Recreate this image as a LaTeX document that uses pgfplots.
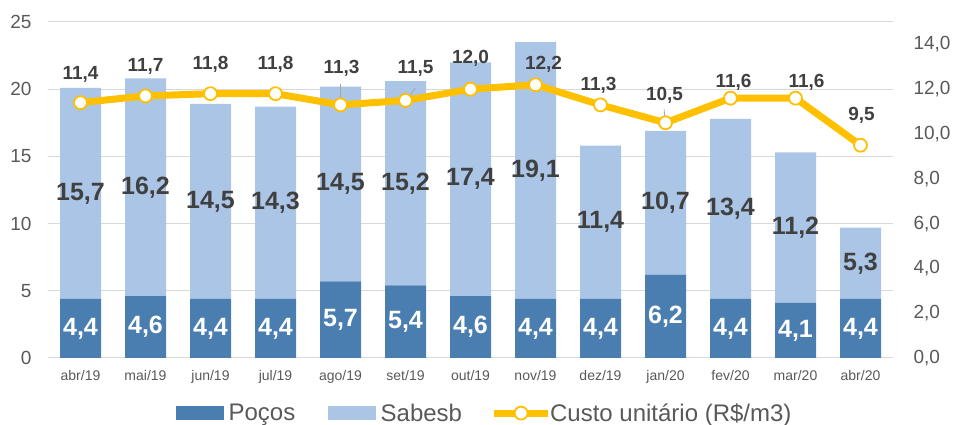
\documentclass[border=0pt]{standalone}
\usepackage{fontspec}
\setmainfont{Liberation Sans}
\usepackage{pgfplots}
\usepackage{pgfplotstable}
\pgfplotsset{compat=1.18}
\definecolor{pocos}{HTML}{4A7EB0}
\definecolor{sabesb}{HTML}{ABC5E6}
\definecolor{custo}{HTML}{FFC000}
\definecolor{gridc}{HTML}{D9D9D9}
\definecolor{tickc}{HTML}{595959}
\definecolor{lblc}{HTML}{404040}
\pgfplotsset{linelegend/.style={legend image code/.code={\path[draw=none, fill=none] (0pt,-6.5pt) rectangle (50pt,6.5pt); \draw[overlay, ##1, mark repeat=2, mark phase=2] plot coordinates {(-1pt,0pt) (26pt,0pt) (53pt,0pt)};}}}

\pgfplotstableread{
x pocos sabesb custo dx dy
0 4.4 15.7 11.4 0 28
1 4.6 16.2 11.7 0 29.5
2 4.4 14.5 11.8 0 29
3 4.4 14.3 11.8 0 29
4 5.7 14.5 11.3 1 36.5
5 5.4 15.2 11.5 10 32
6 4.6 17.4 12.0 0 30.5
7 4.4 19.1 12.2 8 20.5
8 4.4 11.4 11.3 -2 20
9 6.2 10.7 10.5 -1 27
10 4.4 13.4 11.6 3 15.5
11 4.1 11.2 11.6 11 15.5
12 4.4 5.3 9.5 1 30
}\data

\begin{document}
\begin{tikzpicture}
\path[use as bounding box] (0pt,0pt) rectangle (953pt,425pt);
\begin{axis}[
  at={(48pt,67pt)}, anchor=south west,
  scale only axis, width=845pt, height=336pt,
  xmin=-0.5, xmax=12.5, ymin=0, ymax=25,
  ybar stacked, bar width=41pt,
  axis x line*=bottom, axis y line*=left,
  y axis line style={draw=none},
  x axis line style={draw=gridc, line width=1pt, -},
  ytick={0,5,...,25},
  ymajorgrids, grid style={draw=gridc, line width=1pt},
  ytick style={draw=none},
  yticklabel style={font=\fontsize{19}{19}\selectfont, text=tickc, xshift=-13pt},
  /pgf/number format/assume math mode=true,
  xtick={0,...,12},
  xticklabels={abr/19,mai/19,jun/19,jul/19,ago/19,set/19,out/19,nov/19,dez/19,jan/20,fev/20,mar/20,abr/20},
  xticklabel style={font=\fontsize{14}{14}\selectfont, text=tickc, yshift=-9pt},
  major x tick style={draw=none},
  extra x ticks={-0.5,0.5,...,12.5},
  extra x tick labels={},
  extra x tick style={grid=none, tick style={draw=gridc, line width=1pt}, major tick length=6pt, tick align=outside},
  point meta=explicit,
  nodes near coords={\pgfmathprintnumber[fixed,fixed zerofill,precision=1,use comma,assume math mode=true]{\pgfplotspointmeta}},
]
\addplot[fill=pocos, draw=none,
  every node near coord/.style={anchor=center, font=\fontsize{25}{25}\selectfont\bfseries, text=white}]
  table[x=x, y=pocos, meta=pocos]{\data};
\addplot[fill=sabesb, draw=none,
  every node near coord/.style={anchor=center, font=\fontsize{25}{25}\selectfont\bfseries, text=lblc}]
  table[x=x, y=sabesb, meta=sabesb]{\data};
\end{axis}

\begin{axis}[
  at={(48pt,67pt)}, anchor=south west,
  scale only axis, width=845pt, height=336pt,
  xmin=-0.5, xmax=12.5, ymin=0, ymax=15,
  axis x line=none, axis y line*=right,
  y axis line style={draw=none},
  ytick={0,2,...,14},
  ytick style={draw=none},
  yticklabel={\pgfmathprintnumber[fixed,fixed zerofill,precision=1,use comma,assume math mode=true]{\tick}},
  yticklabel style={font=\fontsize{19}{19}\selectfont, text=tickc, xshift=17pt},
  legend style={at={(0.517,-0.164)}, anchor=center, draw=none, fill=none,
    legend columns=3, font=\fontsize{24}{24}\selectfont, text=tickc,
    /tikz/every even column/.append style={column sep=31pt},
    /tikz/every odd column/.append style={column sep=3pt},
    legend cell align=left},
]
\addlegendimage{legend image code/.code={\fill[pocos] (0pt,-6.5pt) rectangle (47pt,6.5pt);}}
\addlegendentry{Poços}
\addlegendimage{legend image code/.code={\fill[sabesb] (0pt,-6.5pt) rectangle (47pt,6.5pt);}}
\addlegendentry{Sabesb}
\addplot[draw=custo, line width=7pt, mark=*, mark size=6.5pt,
  mark options={fill=white, draw=custo, line width=1.8pt},
  linelegend,
  point meta=explicit,
  nodes near coords={\pgfmathprintnumber[fixed,fixed zerofill,precision=1,use comma,assume math mode=true]{\pgfplotspointmeta}},
  visualization depends on={\thisrow{dx}\as\dx},
  visualization depends on={\thisrow{dy}\as\dy},
  every node near coord/.style={anchor=center, xshift={\dx}, yshift={\dy}, font=\fontsize{19}{19}\selectfont\bfseries, text=lblc}]
  table[x=x, y=custo, meta=custo]{\data};
\addlegendentry{Custo unitário (R\$/m3)}
\addplot[forget plot, draw=gray!70, line width=0.8pt] coordinates {(4,11.3) (4,12.25)};
\addplot[forget plot, draw=gray!70, line width=0.8pt] coordinates {(5.04,11.6) (5.15,12.05)};
\addplot[forget plot, draw=gray!70, line width=0.8pt] coordinates {(8.99,10.5) (8.98,11.1)};
\end{axis}
\end{tikzpicture}
\end{document}
